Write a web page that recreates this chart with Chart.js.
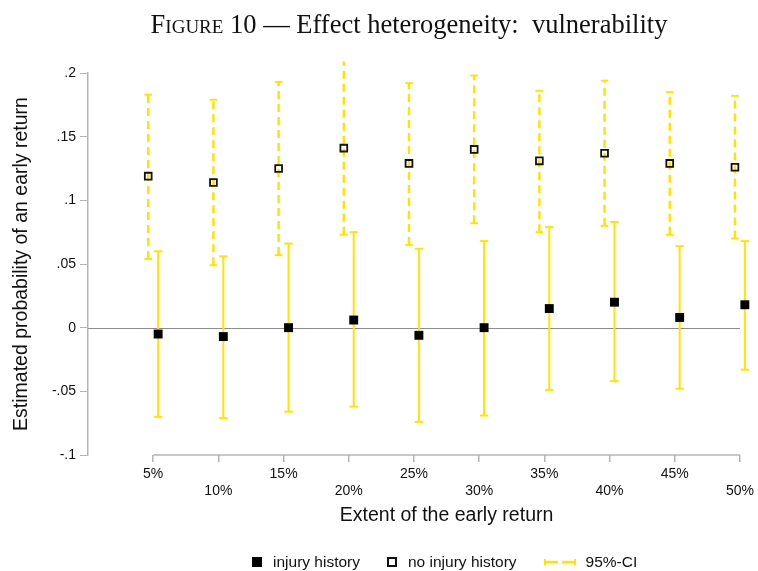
<!DOCTYPE html>
<html>
<head>
<meta charset="utf-8">
<script src="https://cdn.jsdelivr.net/npm/chart.js@4.4.1/dist/chart.umd.min.js"></script>
<style>
  html, body { margin: 0; padding: 0; background: #fff; }
  #wrap { position: relative; width: 758px; height: 571px; }
  #title {
    position: absolute; top: 11px; left: 0; width: 758px; box-sizing: border-box;
    padding-left: 60px; text-align: center;
    font-family: 'Liberation Serif', 'Times New Roman', serif; font-size: 26.5px; line-height: 26px; color: #111;
  }
  #title .sc { font-variant: small-caps; }
  #legend {
    position: absolute; top: 553px; left: 252px; height: 18px;
    display: flex; align-items: center;
    font-family: 'Liberation Sans', Arial, sans-serif; font-size: 15.5px; color: #111;
  }
  #legend .item { display: flex; align-items: center; margin-right: 27px; }
  #legend .sym { margin-right: 11px; }
  .filled { width: 10px; height: 10px; background: #000; }
  .hollow { width: 6px; height: 6px; border: 2px solid #111; }
</style>
</head>
<body>
<div id="wrap">
  <canvas id="chart" width="758" height="571"></canvas>
  <div id="title"><span class="sc">Figure</span> 10 — Effect heterogeneity:&nbsp; vulnerability</div>
  <div id="legend">
    <div class="item"><div class="sym filled"></div><span>injury history</span></div>
    <div class="item"><div class="sym hollow"></div><span>no injury history</span></div>
    <div class="item"><svg class="sym" width="32" height="10" style="margin-right:10px">
      <line x1="1" y1="5" x2="31" y2="5" stroke="#ffe400" stroke-width="2.5" stroke-dasharray="13,4"/>
      <line x1="1" y1="2" x2="1" y2="8" stroke="#ffe400" stroke-width="2"/>
      <line x1="31" y1="2" x2="31" y2="8" stroke="#ffe400" stroke-width="2"/>
    </svg><span>95%-CI</span></div>
  </div>
</div>
<script>
// Extent of the early return (percent)
const categories = [5, 10, 15, 20, 25, 30, 35, 40, 45, 50];
const xTickLabels = ['5%', '10%', '15%', '20%', '25%', '30%', '35%', '40%', '45%', '50%'];
const yTickValues = [-0.1, -0.05, 0, 0.05, 0.1, 0.15, 0.2];
const yTickLabels = ['-.1', '-.05', '0', '.05', '.1', '.15', '.2'];
const xTitle = 'Extent of the early return';

// injury history
const injuryEst = [-0.005, -0.007, 0.000, 0.006, -0.006, 0.000, 0.015, 0.020, 0.008, 0.018];
const injuryLo  = [-0.070, -0.071, -0.066, -0.062, -0.074, -0.069, -0.049, -0.042, -0.048, -0.033];
const injuryHi  = [0.060, 0.056, 0.066, 0.075, 0.062, 0.068, 0.079, 0.083, 0.064, 0.068];

// no injury history
const noInjEst = [0.119, 0.114, 0.125, 0.141, 0.129, 0.140, 0.131, 0.137, 0.129, 0.126];
const noInjLo  = [0.054, 0.049, 0.057, 0.073, 0.065, 0.082, 0.075, 0.080, 0.073, 0.070];
const noInjHi  = [0.183, 0.179, 0.193, 0.209, 0.192, 0.198, 0.186, 0.194, 0.185, 0.182];

const YELLOW = '#ffe400';
const AXIS_GRAY = '#b4b4b4';
const FONT = "'Liberation Sans', Arial, sans-serif";
const shift = 0.38; // small horizontal offset so the two groups don't overlap

function points(vals, dx) {
    return categories.map((c, i) => ({ x: c + dx, y: vals[i] }));
}

// one segment per category, broken by a null point
function ciSegments(lo, hi, dx) {
    const out = [];
    categories.forEach((c, i) => {
        out.push({ x: c + dx, y: lo[i] });
        out.push({ x: c + dx, y: hi[i] });
        out.push({ x: c + dx, y: null });
    });
    return out;
}

// x axis line, zero line and x title all follow the tick range (5% .. 50%)
const axisLines = {
    id: 'axisLines',
    beforeDatasetsDraw(chart) {
        const x = chart.scales.x;
        const y = chart.scales.y;
        const ctx = chart.ctx;
        const x0 = x.getPixelForValue(categories[0]);
        const x1 = x.getPixelForValue(categories[categories.length - 1]);
        ctx.save();
        ctx.strokeStyle = AXIS_GRAY;
        ctx.lineWidth = 1.5;
        ctx.beginPath();
        ctx.moveTo(x0, x.top);
        ctx.lineTo(x1, x.top);
        ctx.stroke();
        // reference line at 0
        ctx.strokeStyle = '#8c8c8c';
        ctx.lineWidth = 1;
        const yz = Math.round(y.getPixelForValue(0)) + 0.5;
        ctx.beginPath();
        ctx.moveTo(chart.chartArea.left, yz);
        ctx.lineTo(x1, yz);
        ctx.stroke();
        // axis title, centred under the ticks
        ctx.fillStyle = '#111';
        ctx.font = '19.5px ' + FONT;
        ctx.textAlign = 'center';
        ctx.textBaseline = 'middle';
        ctx.fillText(xTitle, (x0 + x1) / 2, x.top + 61);
        ctx.restore();
    }
};

Chart.defaults.font.family = FONT;
Chart.defaults.color = '#111';

new Chart(document.getElementById('chart'), {
    type: 'scatter',
    data: {
        datasets: [
            {
                label: 'injury history',
                data: points(injuryEst, shift),
                pointStyle: 'rect',
                pointRadius: 6.3,
                backgroundColor: '#000',
                borderColor: '#000',
                borderWidth: 0,
                clip: false,
                order: 0
            },
            {
                label: 'no injury history',
                data: points(noInjEst, -shift),
                pointStyle: 'rect',
                pointRadius: 4.8,
                backgroundColor: 'rgba(0,0,0,0)',
                borderColor: '#111',
                borderWidth: 1.8,
                clip: false,
                order: 0
            },
            {
                label: '95%-CI',
                data: ciSegments(injuryLo, injuryHi, shift),
                showLine: true,
                spanGaps: false,
                borderColor: YELLOW,
                borderWidth: 2,
                pointStyle: 'line',
                pointRadius: 4.2,
                pointBorderColor: YELLOW,
                pointBorderWidth: 2,
                clip: false,
                order: 1
            },
            {
                label: '95%-CI',
                data: ciSegments(noInjLo, noInjHi, -shift),
                showLine: true,
                spanGaps: false,
                borderColor: YELLOW,
                borderWidth: 2.5,
                borderDash: [8, 5],
                pointStyle: 'line',
                pointRadius: 3.8,
                pointBorderColor: YELLOW,
                pointBorderWidth: 2,
                clip: false,
                order: 1
            }
        ]
    },
    options: {
        responsive: false,
        animation: false,
        events: [],
        layout: { padding: { top: 73, right: 11, bottom: 41, left: 0 } },
        plugins: {
            legend: { display: false },
            title: { display: false },
            tooltip: { enabled: false }
        },
        scales: {
            x: {
                type: 'linear',
                min: 0,
                max: 50.4,
                afterBuildTicks: (scale) => { scale.ticks = categories.map(v => ({ value: v })); },
                afterFit: (scale) => { scale.height = 75; },
                border: { display: false },
                grid: { drawOnChartArea: false, tickLength: 7, tickColor: AXIS_GRAY, lineWidth: 1.5 },
                ticks: {
                    autoSkip: false,
                    maxRotation: 0,
                    padding: 4,
                    font: { size: 14 },
                    color: '#111',
                    callback: (value, index) => index % 2 ? ['', xTickLabels[index]] : xTickLabels[index]
                },
                title: { display: false }
            },
            y: {
                min: -0.1,
                max: 0.2,
                afterBuildTicks: (scale) => { scale.ticks = yTickValues.map(v => ({ value: v })); },
                afterFit: (scale) => { scale.width = 88; },
                border: { display: true, color: AXIS_GRAY, width: 1.5 },
                grid: {
                    color: 'rgba(0,0,0,0)',
                    tickLength: 8,
                    tickColor: AXIS_GRAY
                },
                ticks: {
                    padding: 4,
                    font: { size: 14 },
                    color: '#111',
                    callback: (value, index) => yTickLabels[index]
                },
                title: {
                    display: true,
                    text: 'Estimated probability of an early return',
                    font: { size: 19.5 },
                    color: '#111',
                    padding: { top: 10, bottom: 0 }
                }
            }
        }
    },
    plugins: [axisLines]
});
</script>
</body>
</html>
